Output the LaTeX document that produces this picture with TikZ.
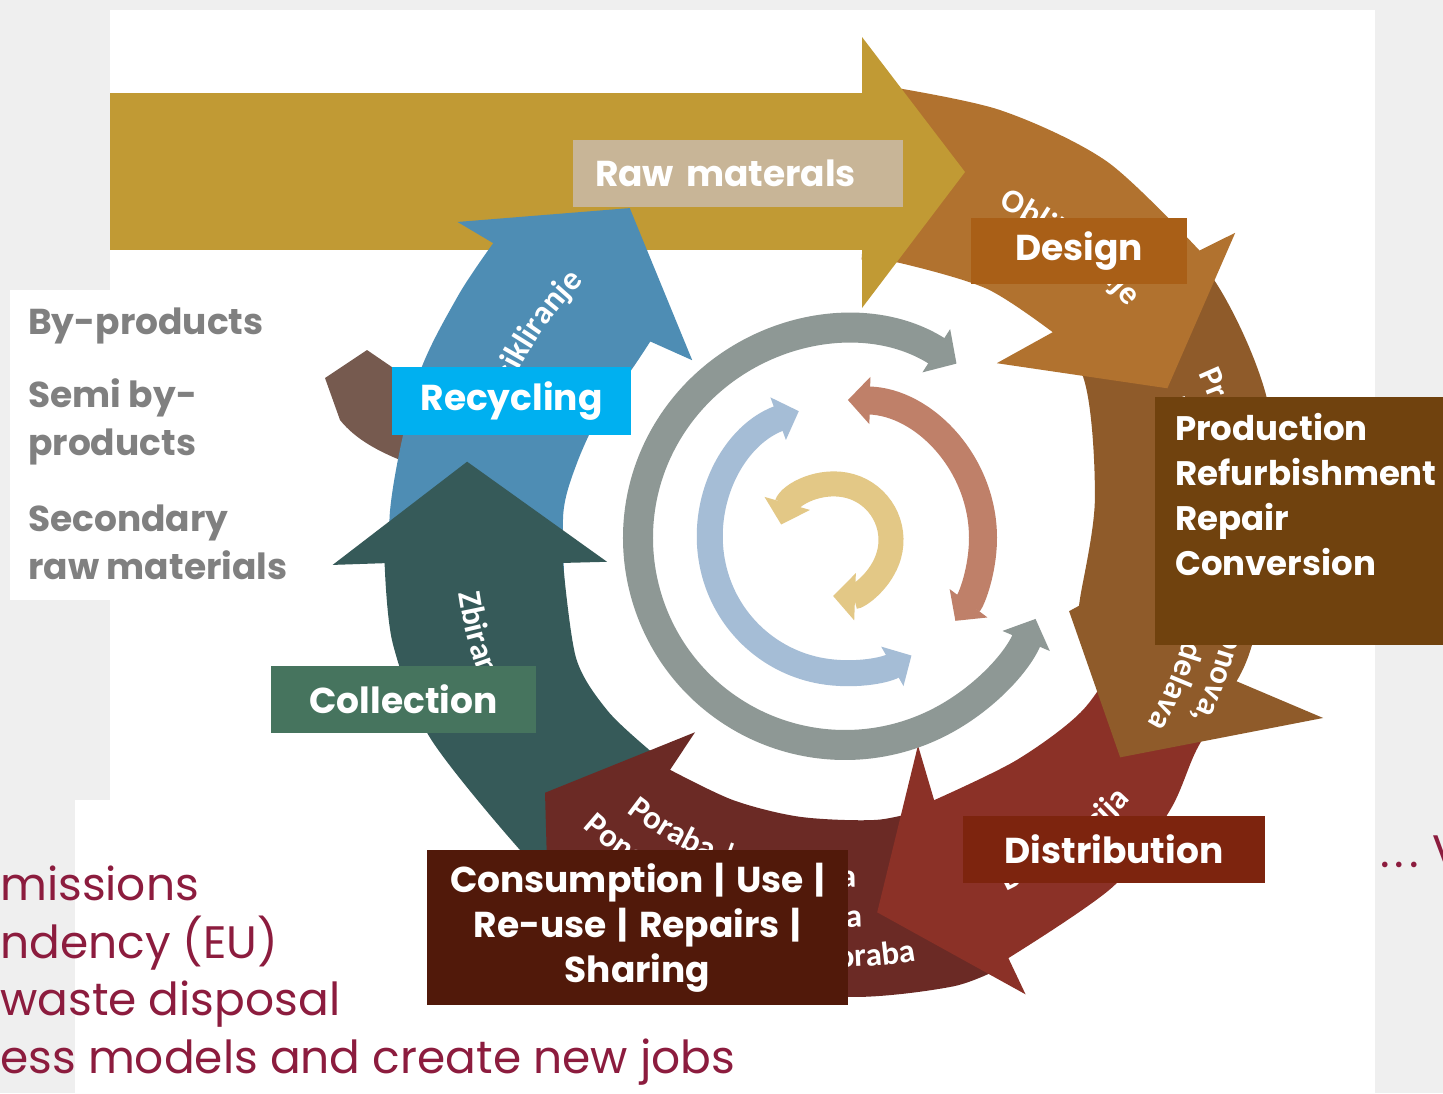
\documentclass[tikz,border=0pt]{standalone}
\usepackage{fontspec}
\setmainfont{Poppins}
\newfontfamily\arcfont{Carlito}
\usetikzlibrary{arrows.meta, positioning, decorations.text}
\definecolor{CE_MARBLE}{HTML}{EFEFEF}
\definecolor{CE_GOLD}{HTML}{C19A34}
\definecolor{CE_DESIGN}{HTML}{B1722F}
\definecolor{CE_PROD}{HTML}{8F5B2A}
\definecolor{CE_DIST}{HTML}{8B3127}
\definecolor{CE_CONS}{HTML}{6B2A25}
\definecolor{CE_COLL}{HTML}{365A59}
\definecolor{CE_RECYC}{HTML}{4E8DB4}
\definecolor{CE_BYPROD}{HTML}{765A4F}
\definecolor{CE_RAWBOX}{HTML}{C8B597}
\definecolor{CE_DESBOX}{HTML}{A95F17}
\definecolor{CE_PRODBOX}{HTML}{70420E}
\definecolor{CE_RECBOX}{HTML}{00B0F0}
\definecolor{CE_COLLBOX}{HTML}{46745E}
\definecolor{CE_DISTBOX}{HTML}{7D240E}
\definecolor{CE_CONSBOX}{HTML}{51190A}
\definecolor{CE_RING}{HTML}{8E9895}
\definecolor{CE_SKY}{HTML}{A5BDD6}
\definecolor{CE_SALMON}{HTML}{BF8069}
\definecolor{CE_SAND}{HTML}{E3C886}
\definecolor{CE_GRAYTXT}{HTML}{808080}
\definecolor{CE_MAROON}{HTML}{8C1C3E}
\newcommand{\arcfnt}{\arcfont\bfseries\fontsize{33}{33}\selectfont\color{white}}
\newcommand{\barsep}{\hspace{0.3em}\textbar\hspace{0.3em}}

\begin{document}
\begin{tikzpicture}[x=1pt, y=-1pt,
    lbl/.style={fill=#1, text=white, font=\bfseries\fontsize{36}{45}\selectfont, inner sep=0pt, align=center},
    sidetxt/.style={text=CE_GRAYTXT, font=\bfseries\fontsize{36}{48}\selectfont, inner sep=0pt, align=left},
    goaltxt/.style={text=CE_MAROON, font=\fontsize{45.5}{57.5}\selectfont, inner sep=0pt, align=left},
    arcC/.style={decorate, decoration={text along path, text format delimiters={[}{]}, text={[\arcfnt]#1}, text align={center}}},
    arcS/.style={decorate, decoration={text along path, text format delimiters={[}{]}, text={[\arcfnt]#1}, text align={fit to path stretching spaces}}},
    arcL/.style={decorate, decoration={text along path, text format delimiters={[}{]}, text={[\arcfnt]#1}, text align={left}}},
    arcR/.style={decorate, decoration={text along path, text format delimiters={[}{]}, text={[\arcfnt]#1}, text align={right}}}]
  \useasboundingbox (0,0) rectangle (1443,1093);

  % Background
  \fill[CE_MARBLE] (0,0) rectangle (1443,1093);
  \fill[white] (110,10) rectangle (1375,1093);
  \fill[white] (10,290) rectangle (110,600);
  \fill[white] (75,800) rectangle (110,1093);

  % Raw materials arrow, body
  \fill[CE_GOLD] (110,93) rectangle (864,250);

  % By-products arrow
  \fill[CE_BYPROD] (367,350) -- (325,378) -- (340,420) .. controls (356,440) and (380,452) .. (405,462)
    -- (420,440) -- (420,395) -- (405,376) -- cycle;

  \begin{scope}[shift={(842,540)}, y=1pt]
    % Recycling
    \fill[CE_RECYC] plot[smooth] coordinates {(192:455) (176.6:453) (159.4:454) (147.7:455) (139.6:458)}
      -- (140.4:499) -- (122.6:394) -- (129.8:234)
      -- plot[smooth] coordinates {(134:276) (140.4:271) (152.3:273) (163.8:276) (174.5:280) (192:283)} -- cycle;
    % Collection
    \fill[CE_COLL] plot[smooth] coordinates {(232:447) (224:447) (205.6:457) (193:461) (182.9:458)}
      -- (182.8:510) -- (168.2:383) -- (185.3:236)
      -- plot[smooth] coordinates {(184.7:280) (204:291) (216:290) (228:285) (232:284)} -- cycle;
    % Consumption
    \fill[CE_CONS] (-72:282) -- plot[smooth] coordinates {(-69:456) (-76:460) (-89:457) (-105:457) (-125.5:455)}
      -- (-125.4:505) -- (-139.6:390) -- (-127.4:242)
      -- plot[smooth] coordinates {(-126.8:287) (-112.7:282) (-98.6:280) (-82.9:282) (-72:282)} -- cycle;
    % Distribution
    \fill[CE_DIST] plot[smooth] coordinates {(-5:435) (-20:418) (-30.6:412) (-39.5:425) (-52:440) (-68.3:450)}
      -- (-68:490) -- (-84.6:374) -- (-69.7:219)
      -- plot[smooth] coordinates {(-70.5:276) (-51.5:281) (-35:295) (-20:300) (-5:300)} -- cycle;
    % Production
    \fill[CE_PROD] plot[smooth] coordinates {(52:456) (35:454) (18.6:448) (0:438) (-15:423) (-19.7:419)}
      -- (-20.3:513) -- (-38:353) -- (-17.4:238)
      -- plot[smooth] coordinates {(-15.5:246) (-13.5:245) (9:256) (34:291) (52:302)} -- cycle;
    % Design
    \fill[CE_DESIGN] plot[smooth] coordinates {(86:457) (70:458) (55:462) (39:460)}
      -- (38:499) -- (25:359) -- (48.8:235)
      -- plot[smooth] coordinates {(44.6:296) (60:290) (78:283) (86:281)} -- cycle;
  \end{scope}

  % Raw materials arrow, head
  \fill[CE_GOLD] (862,37) -- (965,172) -- (862,308) -- cycle;

  \begin{scope}[shift={(845,538)}, y=1pt]
    % Inner cycles
    \draw[line width=30pt, CE_RING, {Triangle[width=50pt,length=24pt]}-{Triangle[width=50pt,length=24pt]}]
      (57.4:207) arc[start angle=57.4, end angle=337, radius=207];
    \draw[line width=26pt, CE_SKY, {Triangle[width=44pt,length=22pt]}-{Triangle[width=44pt,length=22pt]}]
      (110:135) arc[start angle=110, end angle=299.5, radius=135];
    \draw[line width=28pt, CE_SALMON, {Triangle[width=46pt,length=22pt]}-{Triangle[width=46pt,length=22pt]}]
      (88.8:138) arc[start angle=88.8, end angle=-36.9, radius=138];
    \draw[line width=25pt, CE_SAND, {Triangle[width=46pt,length=22pt]}-{Triangle[width=46pt,length=22pt]}]
      (-10,-2) ++(164:56) arc[start angle=164, end angle=-92, radius=56];
  \end{scope}

  \begin{scope}[shift={(842,540)}, y=1pt]
    % Slovene texts on the ring
    \path[arcC={Oblikovanje}] (68:368) arc[start angle=68, end angle=36, radius=368];
    \path[arcS={Proizvodnja, obnova,}] (25:393) arc[start angle=25, end angle=-27, radius=393];
    \path[arcS={popravilo, predelava}] (23:356) arc[start angle=23, end angle=-31, radius=356];
    \path[arcC={Distribucija}] (-67:388) arc[start angle=-67, end angle=-40, radius=388];
    \path[arcC={Poraba | Uporaba}] (-132:347) arc[start angle=-132, end angle=-84, radius=347];
    \path[arcS={Ponovna uporaba}] (-132:387) arc[start angle=-132, end angle=-87, radius=387];
    \path[arcR={Souporaba}] (-115:427) arc[start angle=-115, end angle=-80, radius=427];
    \path[arcR={Recikliranje}] (170:365) arc[start angle=170, end angle=135, radius=365];
    \path[arcL={Zbiranje}] (188:387) arc[start angle=188, end angle=230, radius=387];
  \end{scope}

  % Labels
  \node[lbl=CE_RAWBOX, minimum width=330pt, minimum height=67pt, text width=286pt, align=left] (raw) at (738,173.5) {Raw materals};
  \node[lbl=CE_DESBOX, minimum width=216pt, minimum height=66pt] (design) at (1079,251) {Design};
  \node[fill=CE_PRODBOX, minimum width=300pt, minimum height=248pt, inner sep=0pt, anchor=north west] (prodbox) at (1155,397) {};
  \node[lbl=CE_PRODBOX, font=\bfseries\fontsize{34}{45}\selectfont, align=left, anchor=north west] (prodtext) at (1175,413) {Production\\Refurbishment\\Repair\\Conversion};
  \node[lbl=CE_RECBOX, minimum width=239pt, minimum height=68pt] (recycling) at (511.5,401) {Recycling};
  \node[lbl=CE_COLLBOX, minimum width=265pt, minimum height=67pt] (collection) at (403.5,699.5) {Collection};
  \node[lbl=CE_DISTBOX, minimum width=302pt, minimum height=67pt] (distribution) at (1114,849.5) {Distribution};
  \node[lbl=CE_CONSBOX, minimum width=421pt, minimum height=155pt] (consumption) at (637.5,927.5) {Consumption\barsep Use\barsep\\Re-use\barsep Repairs\barsep\\Sharing};

  % Side texts
  \node[sidetxt, anchor=west] (byprod) at (28,326) {By-products};
  \node[sidetxt, anchor=west] (semiby) at (28,422) {Semi by-\\products};
  \node[sidetxt, anchor=west] (secraw) at (28,542) {Secondary\\raw materials};

  % Goals
  \node[goaltxt, anchor=north west] (goals) at (0,866) {missions\\ndency (EU)\\waste disposal\\ess models and create new jobs};
  \node[goaltxt, anchor=west] (more) at (1380,852) {.\hspace{5pt}.\hspace{5pt}.\hspace{14pt}V};
\end{tikzpicture}
\end{document}
